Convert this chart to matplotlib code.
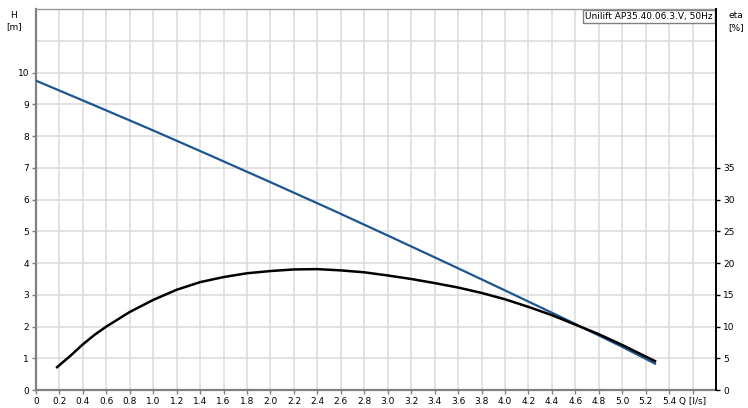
import matplotlib
matplotlib.use('Agg')
import matplotlib.pyplot as plt
import matplotlib.transforms as mtrans
import numpy as np

# Q-H curve (head, m)
q_head = [0.0, 0.5, 1.0, 1.5, 2.0, 2.5, 3.0, 3.5, 4.0, 4.5, 5.0, 5.28]
head = [9.75, 8.97, 8.18, 7.37, 6.55, 5.72, 4.87, 4.01, 3.14, 2.26, 1.36, 0.83]

# efficiency curve (eta, %)
q_eta = [0.18, 0.3, 0.4, 0.5, 0.6, 0.8, 1.0, 1.2, 1.4, 1.6, 1.8, 2.0, 2.2, 2.4, 2.6,
         2.8, 3.0, 3.2, 3.4, 3.6, 3.8, 4.0, 4.2, 4.4, 4.6, 4.8, 5.0, 5.28]
eta = [3.6, 5.5, 7.2, 8.7, 10.0, 12.3, 14.2, 15.8, 17.0, 17.8, 18.4, 18.75, 19.0, 19.05,
       18.85, 18.55, 18.05, 17.5, 16.85, 16.15, 15.3, 14.3, 13.1, 11.8, 10.3,
       8.8, 7.1, 4.55]

x_ticks = [round(0.2 * i, 1) for i in range(29)]
x_labels = ['0'] + ['%.1f' % v for v in x_ticks[1:28]] + ['Q [l/s]']
h_ticks = list(range(11))
eta_ticks = [0, 5, 10, 15, 20, 25, 30, 35]
title = 'Unilift AP35.40.06.3.V, 50Hz'

blue = '#1d5591'
grid_c = '#dddddd'
fs = 6.5

fig = plt.figure(figsize=(7.48, 4.08), dpi=100)
W, Hh = 748, 408
ax = fig.add_axes([36 / W, (Hh - 390) / Hh, (716 - 36) / W, (390 - 9.3) / Hh])
ax.set_xlim(0, 5.8)
ax.set_ylim(0, 12)

ax.set_xticks(x_ticks)
ax.set_xticklabels(x_labels, fontsize=fs)
# unit label sits just right of its tick
last = ax.get_xticklabels()[-1]
last.set_transform(last.get_transform() + mtrans.ScaledTranslation(8 / 100, 0, fig.dpi_scale_trans))
ax.set_yticks(h_ticks)
ax.set_yticklabels([str(v) for v in h_ticks], fontsize=fs)
ax.set_yticks([11, 12], minor=True)
ax.tick_params(axis='y', which='minor', length=0)
ax.tick_params(axis='both', which='major', length=3, width=1, color='#808080', pad=2)
ax.grid(True, which='both', color=grid_c, lw=1.2)
ax.set_axisbelow(True)

for s in ['left', 'bottom']:
    ax.spines[s].set_color('#808080')
    ax.spines[s].set_linewidth(1.6)
ax.spines['top'].set_color('#999999')
ax.spines['top'].set_linewidth(1.0)
ax.spines['right'].set_visible(False)

ax.plot(q_head, head, color=blue, lw=1.6, zorder=3)

ax2 = ax.twinx()
ax2.set_ylim(0, 60)
ax2.set_yticks(eta_ticks)
ax2.set_yticklabels([str(v) for v in eta_ticks], fontsize=fs)
ax2.tick_params(axis='y', length=3, width=1, pad=2)
for s in ['left', 'bottom', 'top']:
    ax2.spines[s].set_visible(False)
ax2.spines['right'].set_color('black')
ax2.spines['right'].set_linewidth(1.4)
ax2.plot(q_eta, eta, color='black', lw=1.8, zorder=3)

ax.text(0.995, 0.993, title, transform=ax.transAxes, ha='right', va='top',
        fontsize=fs, zorder=5,
        bbox=dict(boxstyle='square,pad=0.25', fc='white', ec='#808080', lw=1.0))

fig.text(14 / W, 1 - 15 / Hh, 'H', fontsize=fs, ha='center', va='center')
fig.text(14 / W, 1 - 27 / Hh, '[m]', fontsize=fs, ha='center', va='center')
fig.text(736 / W, 1 - 16 / Hh, 'eta', fontsize=fs, ha='center', va='center')
fig.text(736 / W, 1 - 28 / Hh, '[%]', fontsize=fs, ha='center', va='center')

fig.savefig('out.png', dpi=100)
